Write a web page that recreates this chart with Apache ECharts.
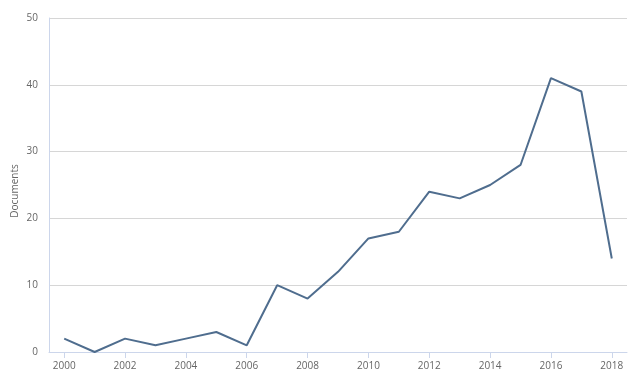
<!DOCTYPE html>
<html>
<head>
<meta charset="utf-8">
<script src="https://cdn.jsdelivr.net/npm/echarts@6/dist/echarts.min.js"></script>
<style>html,body{margin:0;padding:0;background:#fff;}#c{width:636px;height:382px;}</style>
</head>
<body>
<div id="c"></div>
<script>
const years = ['2000','2001','2002','2003','2004','2005','2006','2007','2008','2009','2010','2011','2012','2013','2014','2015','2016','2017','2018'];
const documents = [2,0,2,1,2,3,1,10,8,12,17,18,24,23,25,28,41,39,14];
const yTicks = [0,10,20,30,40,50];
const yTitle = 'Documents';

const chart = echarts.init(document.getElementById('c'), null, {renderer:'canvas'});
chart.setOption({
  animation:false,
  backgroundColor:'#fff',
  textStyle:{fontFamily:'Open Sans'},
  grid:{left:49,right:9,top:18,bottom:30,containLabel:false},
  graphic:[{
    type:'text',
    left:10, top:'middle',
    rotation:Math.PI/2,
    x:10, y:185,
    style:{text:yTitle, fill:'#666', font:'10px "Open Sans"', textAlign:'center', textVerticalAlign:'middle'}
  }],
  xAxis:{
    type:'category',
    data:years,
    boundaryGap:true,
    axisLine:{lineStyle:{color:'#ccd6eb',width:1}},
    axisTick:{show:true,alignWithLabel:true,interval:1,length:6,lineStyle:{color:'#ccd6eb'}},
    axisLabel:{interval:1,color:'#666',fontSize:10,margin:9},
    splitLine:{show:false}
  },
  yAxis:{
    type:'value',
    min:yTicks[0],max:yTicks[yTicks.length-1],interval:10,
    axisLine:{show:true,lineStyle:{color:'#ccd6eb'}},
    axisTick:{show:false},
    axisLabel:{color:'#666',fontSize:10,margin:11},
    splitLine:{lineStyle:{color:'#d6d6d6',width:1}}
  },
  series:[{
    type:'line',
    data:documents,
    symbol:'none',
    lineStyle:{color:'#4f6d8e',width:2},
    itemStyle:{color:'#4f6d8e'}
  }]
});
</script>
</body>
</html>
